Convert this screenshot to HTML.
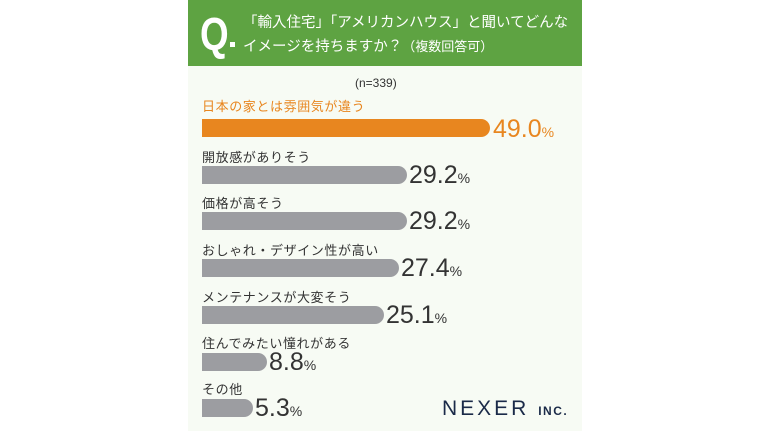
<!DOCTYPE html>
<html><head><meta charset="utf-8"><style>
body{margin:0;width:770px;height:433px;background:#fff;position:relative;overflow:hidden;font-family:"Liberation Sans","Noto Sans CJK JP",sans-serif}
.panel{position:absolute;left:188px;top:0;width:394px;height:431px;background:#f7fbf4}
.hd{position:absolute;left:188px;top:0;width:394px;height:66px;background:#5ea342}
.q{position:absolute;left:200px;top:9px;color:#fff;font-size:46px;font-weight:bold;line-height:50px;transform:scaleX(0.8);transform-origin:left}
.qd{position:absolute;left:230px;top:42px;width:5px;height:5px;background:#fff}
.ht{position:absolute;left:243px;top:12px;color:#fff;font-size:14.5px;line-height:23px;white-space:nowrap}
.n{position:absolute;left:355px;top:76px;font-size:12px;color:#333}
.lb{position:absolute;left:202px;font-size:13px;color:#333;white-space:nowrap;letter-spacing:0.6px}
.bar{position:absolute;left:202px;height:18px;background:#9c9da1;border-radius:0 9px 9px 0}
.v{position:absolute;font-size:25px;color:#333;white-space:nowrap;line-height:28px}
.v small{font-size:14px}
.nx{position:absolute;left:442px;top:397px;font-size:21px;color:#1a2a48;letter-spacing:3px}
.nx small{font-size:12px;font-weight:bold;letter-spacing:1.5px}
</style></head><body>
<div class="panel"></div>
<div class="hd"></div>
<div class="q">Q</div><div class="qd"></div>
<div class="ht">「輸入住宅」「アメリカンハウス」と聞いてどんな<br>イメージを持ちますか？<span style="font-size:13px">（複数回答可）</span></div>
<div class="n">(n=339)</div>

<div class="lb" style="top:96px;color:#e8861f">日本の家とは雰囲気が違う</div>
<div class="bar" style="top:119px;width:288px;background:#e8861f"></div>
<div class="v" style="left:493px;top:115px;color:#e8861f">49.0<small>%</small></div>

<div class="lb" style="top:147px">開放感がありそう</div>
<div class="bar" style="top:166px;width:205px"></div>
<div class="v" style="left:409px;top:161px">29.2<small>%</small></div>

<div class="lb" style="top:193px">価格が高そう</div>
<div class="bar" style="top:212px;width:205px"></div>
<div class="v" style="left:409px;top:207px">29.2<small>%</small></div>

<div class="lb" style="top:240px">おしゃれ・デザイン性が高い</div>
<div class="bar" style="top:259px;width:197px"></div>
<div class="v" style="left:401px;top:254px">27.4<small>%</small></div>

<div class="lb" style="top:287px">メンテナンスが大変そう</div>
<div class="bar" style="top:306px;width:182px"></div>
<div class="v" style="left:386px;top:301px">25.1<small>%</small></div>

<div class="lb" style="top:333px">住んでみたい憧れがある</div>
<div class="bar" style="top:353px;width:65px"></div>
<div class="v" style="left:269px;top:348px">8.8<small>%</small></div>

<div class="lb" style="top:379px">その他</div>
<div class="bar" style="top:399px;width:51px"></div>
<div class="v" style="left:255px;top:394px">5.3<small>%</small></div>

<div class="nx">NEXER <small>INC.</small></div>
</body></html>
